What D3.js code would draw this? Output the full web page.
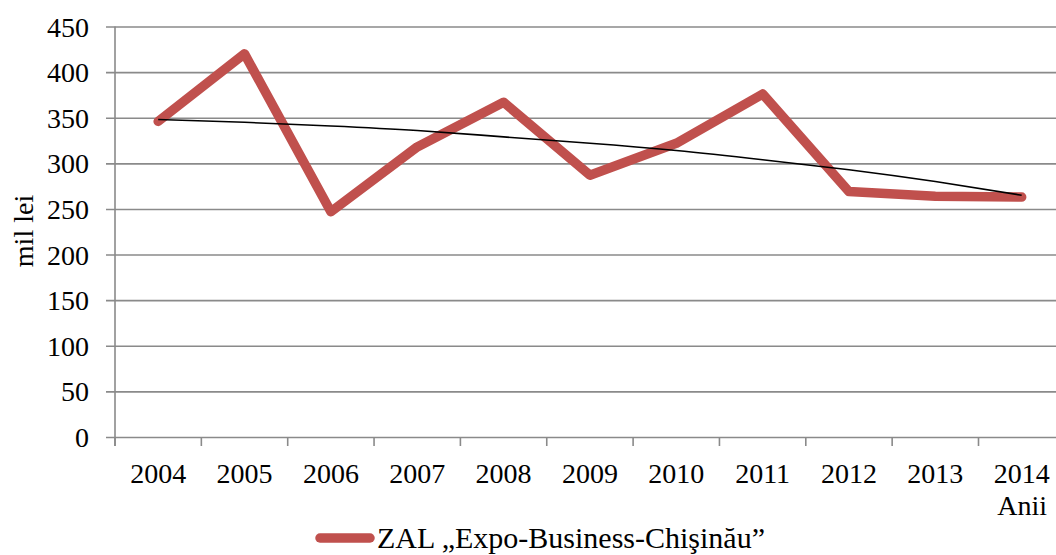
<!DOCTYPE html>
<html>
<head>
<meta charset="utf-8">
<script src="https://cdn.jsdelivr.net/npm/d3@7"></script>
<style>
    body { margin: 0; background: #fff; }
    svg, svg text { font-family: "Liberation Serif", "Times New Roman", serif; }
    svg { display: block; }
</style>
</head>
<body>
<div id="chart"></div>
<script>
//DATA
let years = ['2004', '2005', '2006', '2007', '2008', '2009', '2010', '2011', '2012', '2013', '2014'];
let values = [346, 420, 247, 318, 367, 287, 322, 376, 269, 264, 263];
let trendValues = [348, 345, 341, 336, 329, 322, 314, 304, 293, 280, 265];
let yTicks = [0, 50, 100, 150, 200, 250, 300, 350, 400, 450];
let seriesName = 'ZAL \u201EExpo-Business-Chi\u015Fin\u0103u\u201D';

//VARIABLES
let width = 1056, height = 555;
let margin = {top: 26.5, left: 115, bottom: 118};
let gridColor = '#8a8a8a';
let lineColor = '#C0504D';

let svg = d3.select('#chart')
    .append('svg')
        .attr('width', width)
        .attr('height', height);

//Scales
let x = d3.scaleBand()
    .domain(years)
    .range([margin.left, margin.left + 86.35 * years.length]);

let y = d3.scaleLinear()
    .domain([0, 450])
    .range([height - margin.bottom, margin.top]);

//Gridlines + Y axis
let yAxis = svg.append('g')
    .attr('transform', 'translate(' + margin.left + ',0)')
    .call(d3.axisLeft(y).tickValues(yTicks).tickSize(9).tickPadding(17))
    .attr('font-family', null)
    .attr('font-size', 28);

yAxis.select('.domain').remove();
yAxis.selectAll('.tick line')
    .attr('x1', -9)
    .attr('x2', width)
    .attr('stroke', gridColor)
    .attr('stroke-width', 1.6);
yAxis.selectAll('.tick text')
    .attr('fill', '#000')
    .attr('dy', '0.34em');

svg.append('line')
    .attr('x1', margin.left).attr('x2', margin.left)
    .attr('y1', y(450)).attr('y2', y(0) + 9)
    .attr('stroke', gridColor)
    .attr('stroke-width', 1.6);

//X axis
let xAxis = svg.append('g')
    .attr('transform', 'translate(0,' + y(0) + ')')
    .call(d3.axisBottom(x).tickSize(0).tickPadding(26))
    .attr('font-family', null)
    .attr('font-size', 28);

xAxis.select('.domain').remove();
xAxis.selectAll('.tick text')
    .attr('fill', '#000');

//band edge ticks
svg.append('g')
    .selectAll('line')
    .data(years)
    .enter()
    .append('line')
    .attr('x1', function(d) { return x(d); })
    .attr('x2', function(d) { return x(d); })
    .attr('y1', y(0))
    .attr('y2', y(0) + 9)
    .attr('stroke', gridColor)
    .attr('stroke-width', 1.6);

//Series line
let line = d3.line()
    .x(function(d, i) { return x(years[i]) + x.bandwidth() / 2; })
    .y(function(d) { return y(d); });

svg.append('path')
    .datum(values)
    .attr('fill', 'none')
    .attr('stroke', lineColor)
    .attr('stroke-width', 9.5)
    .attr('stroke-linejoin', 'round')
    .attr('stroke-linecap', 'round')
    .attr('d', line);

//Trend line
let trend = d3.line()
    .curve(d3.curveNatural)
    .x(function(d, i) { return x(years[i]) + x.bandwidth() / 2; })
    .y(function(d) { return y(d); });

svg.append('path')
    .datum(trendValues)
    .attr('fill', 'none')
    .attr('stroke', '#000')
    .attr('stroke-width', 1.6)
    .attr('d', trend);

//Axis titles
svg.append('text')
    .attr('transform', 'translate(33,231) rotate(-90)')
    .attr('text-anchor', 'middle')
    .attr('font-size', 28)
    .text('mil lei');

svg.append('text')
    .attr('x', 1047)
    .attr('y', 515)
    .attr('text-anchor', 'end')
    .attr('font-size', 28)
    .text('Anii');

//Legend
svg.append('line')
    .attr('x1', 320).attr('x2', 370)
    .attr('y1', 538).attr('y2', 538)
    .attr('stroke', lineColor)
    .attr('stroke-width', 9.5)
    .attr('stroke-linecap', 'round');

svg.append('text')
    .attr('x', 377)
    .attr('y', 548)
    .attr('font-size', 30)
    .text(seriesName);
</script>
</body>
</html>
